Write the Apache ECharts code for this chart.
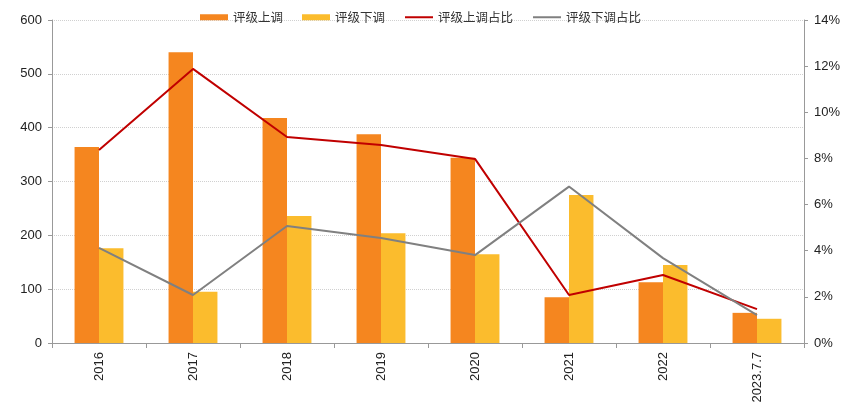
<!DOCTYPE html>
<html><head><meta charset="utf-8">
<script src="https://cdn.jsdelivr.net/npm/echarts@6/dist/echarts.min.js"></script>
<style>html,body{margin:0;padding:0;background:#fff}#c{width:865px;height:411px}</style>
</head><body><div id="c"></div>
<script>
var categories = ['2016','2017','2018','2019','2020','2021','2022','2023.7.7'];
var upgrades = [364, 540, 418, 388, 344, 85, 113, 56];
var downgrades = [176, 95, 236, 204, 165, 275, 145, 45];
var upRatio = [8.37, 11.88, 8.93, 8.58, 7.98, 2.08, 2.95, 1.47];
var downRatio = [4.12, 2.08, 5.07, 4.55, 3.81, 6.78, 3.68, 1.21];
var names = ['评级上调','评级下调','评级上调占比','评级下调占比'];

var font = '"Liberation Sans", Arial, "Noto Sans CJK SC", sans-serif';
var chart = echarts.init(document.getElementById('c'));
chart.setOption({
  animation: false,
  textStyle: {fontFamily: font},
  legend: {
    top: 6, left: 195, itemGap: 19, itemWidth: 28, itemHeight: 6,
    textStyle: {fontSize: 12.5, color: '#333', fontFamily: '"Noto Sans CJK SC", sans-serif'},
    data: [
      {name: names[0], icon: 'rect'},
      {name: names[1], icon: 'rect'},
      {name: names[2], itemStyle: {opacity: 0}},
      {name: names[3], itemStyle: {opacity: 0}}
    ]
  },
  grid: {left: 52, right: 61, top: 20, bottom: 68},
  xAxis: {
    type: 'category', data: categories,
    axisLine: {lineStyle: {color: '#999'}},
    axisTick: {show: true, length: 5, lineStyle: {color: '#999'}},
    axisLabel: {rotate: 90, color: '#222', fontSize: 13, margin: 9}
  },
  yAxis: [{
    type: 'value', min: 0, max: 600, interval: 100,
    axisLine: {show: true, lineStyle: {color: '#999'}},
    axisTick: {show: true, length: 4, lineStyle: {color: '#999'}},
    axisLabel: {color: '#222', fontSize: 13, margin: 10},
    splitLine: {lineStyle: {color: '#d0d0d0', type: 'dotted'}}
  }, {
    type: 'value', min: 0, max: 14, interval: 2,
    axisLine: {show: true, lineStyle: {color: '#999'}},
    axisTick: {show: true, length: 4, lineStyle: {color: '#999'}},
    axisLabel: {color: '#222', fontSize: 13, margin: 10, formatter: '{value}%'},
    splitLine: {show: false}
  }],
  series: [
    {name: names[0], type: 'bar', data: upgrades, barWidth: '26%', barGap: '0%',
     itemStyle: {color: '#F5861F'}},
    {name: names[1], type: 'bar', data: downgrades, barWidth: '26%', barGap: '0%',
     itemStyle: {color: '#FBBC2D'}},
    {name: names[2], type: 'line', yAxisIndex: 1, data: upRatio, symbol: 'none',
     lineStyle: {color: '#C00000', width: 2}, itemStyle: {color: '#C00000'}},
    {name: names[3], type: 'line', yAxisIndex: 1, data: downRatio, symbol: 'none',
     lineStyle: {color: '#808080', width: 2}, itemStyle: {color: '#808080'}}
  ]
});
</script></body></html>
